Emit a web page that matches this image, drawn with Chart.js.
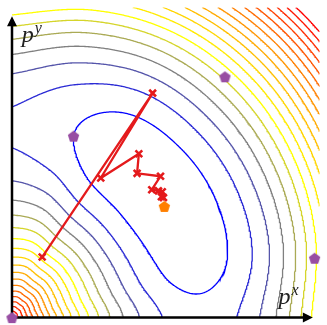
<!DOCTYPE html>
<html>
<head>
<meta charset="utf-8">
<script src="https://cdn.jsdelivr.net/npm/chart.js@4.4.0/dist/chart.umd.min.js"></script>
<style>
  html, body { margin: 0; padding: 0; background: #fff; }
</style>
</head>
<body>
<canvas id="chart" width="327" height="325"></canvas>
<script>
// plot units: 1 unit = 300px, origin at the corner of the arrows
const xMax = 1.05;
const yMax = 1.06;
const xAxisEnd = 1.027;
const yAxisEnd = 1.03;

// contour levels (blue -> yellow -> red)
const levels = [1, 2, 3, 4, 5, 6, 7, 8, 9, 10, 11, 12, 13, 14, 15, 16, 17, 18, 19];
const levelColors = [
  '#0000ff', '#2b2bd5', '#5555aa', '#808080', '#aaaa55', '#d5d52b', '#ffff00',
  '#ffea00', '#ffd500', '#ffbf00', '#ffaa00', '#ff9500', '#ff8000', '#ff6a00',
  '#ff5500', '#ff4000', '#ff2b00', '#ff1500', '#ff0000'
];

// shape of the valley, read along rays from the origin
const rayAngles = [0, 15, 30, 45, 60, 75, 90];
const basinRadius = [0.64, 0.648, 0.652, 0.655, 0.662, 0.668, 0.65];
const basinFloor = [1.38, 0.55, 0.25, 0.2, 0.38, 1.2, 1.83];
const innerCurve = [15.8, 16, 16.5, 17, 16.5, 15.8, 14.8];
const outerWidth = [0.161, 0.167, 0.175, 0.18, 0.178, 0.174, 0.169];
const originPeak = 19.5;

// optimiser steps
const pathX = [0.103, 0.48, 0.303, 0.433, 0.427, 0.507, 0.477, 0.5, 0.513, 0.517, 0.51];
const pathY = [0.207, 0.767, 0.477, 0.56, 0.493, 0.483, 0.437, 0.433, 0.43, 0.41, 0.413];

// sampled points and the optimum
const sampleX = [0, 0.21, 0.727, 1.033];
const sampleY = [0, 0.62, 0.823, 0.203];
const optimumX = [0.52];
const optimumY = [0.38];

function knot(arr, deg) {
  const t = Math.min(Math.max(deg, 0), 90) / 15;
  const i = Math.min(Math.floor(t), rayAngles.length - 2);
  const f = t - i;
  const p0 = arr[Math.max(i - 1, 0)], p1 = arr[i], p2 = arr[i + 1], p3 = arr[Math.min(i + 2, arr.length - 1)];
  return 0.5 * ((2 * p1) + (-p0 + p2) * f + (2 * p0 - 5 * p1 + 4 * p2 - p3) * f * f + (-p0 + 3 * p1 - 3 * p2 + p3) * f * f * f);
}

function surface(x, y) {
  const r = Math.hypot(x, y);
  const deg = Math.atan2(y, x) * 180 / Math.PI;
  const r0 = knot(basinRadius, deg);
  const m = knot(basinFloor, deg);
  if (r < r0) {
    const q = (r0 - r) / r0;
    const a = knot(innerCurve, deg);
    return m + a * q * q + (originPeak - m - a) * Math.pow(q, 6);
  }
  const w = knot(outerWidth, deg);
  return m + ((r - r0) / w) ** 2;
}

const GRID = 240;
function buildGrid() {
  const xs = [], ys = [], F = [];
  for (let i = 0; i <= GRID; i++) xs.push(xMax * i / GRID);
  for (let j = 0; j <= GRID; j++) ys.push(yMax * j / GRID);
  for (let j = 0; j <= GRID; j++) {
    const row = [];
    for (let i = 0; i <= GRID; i++) row.push(surface(xs[i], ys[j]));
    F.push(row);
  }
  return { xs, ys, F };
}

// marching squares, then chain the pieces into polylines
function traceLevel(g, level) {
  const { xs, ys, F } = g;
  const pts = new Map();
  const adj = new Map();
  const cross = (key, x0, y0, f0, x1, y1, f1) => {
    if (!pts.has(key)) {
      const t = (level - f0) / (f1 - f0);
      pts.set(key, { x: x0 + t * (x1 - x0), y: y0 + t * (y1 - y0) });
    }
    return key;
  };
  const link = (a, b) => {
    if (!adj.has(a)) adj.set(a, []);
    if (!adj.has(b)) adj.set(b, []);
    adj.get(a).push(b);
    adj.get(b).push(a);
  };
  for (let j = 0; j < GRID; j++) {
    for (let i = 0; i < GRID; i++) {
      const a = F[j][i], b = F[j][i + 1], c = F[j + 1][i + 1], d = F[j + 1][i];
      const x0 = xs[i], x1 = xs[i + 1], y0 = ys[j], y1 = ys[j + 1];
      const e = [];
      if ((a >= level) !== (b >= level)) e.push(cross('h' + j + ',' + i, x0, y0, a, x1, y0, b));
      if ((b >= level) !== (c >= level)) e.push(cross('v' + j + ',' + (i + 1), x1, y0, b, x1, y1, c));
      if ((d >= level) !== (c >= level)) e.push(cross('h' + (j + 1) + ',' + i, x0, y1, d, x1, y1, c));
      if ((a >= level) !== (d >= level)) e.push(cross('v' + j + ',' + i, x0, y0, a, x0, y1, d));
      if (e.length === 2) link(e[0], e[1]);
      else if (e.length === 4) {
        const mid = (a + b + c + d) / 4 >= level;
        if (mid === (a >= level)) { link(e[0], e[1]); link(e[2], e[3]); }
        else { link(e[0], e[3]); link(e[1], e[2]); }
      }
    }
  }
  const used = new Set();
  const walk = (start) => {
    const keys = [start];
    used.add(start);
    let cur = start;
    for (;;) {
      const next = adj.get(cur).find(k => !used.has(k));
      if (next === undefined) break;
      used.add(next);
      keys.push(next);
      cur = next;
    }
    if (keys.length > 2 && adj.get(cur).includes(start)) keys.push(start);
    return keys.map(k => pts.get(k));
  };
  const lines = [];
  for (const [k, n] of adj) if (n.length === 1 && !used.has(k)) lines.push(walk(k));
  for (const k of adj.keys()) if (!used.has(k)) lines.push(walk(k));
  return lines;
}

function pentagon(color, size) {
  const c = document.createElement('canvas');
  c.width = size;
  c.height = size;
  const g = c.getContext('2d');
  const r = size / 2 - 0.5;
  g.beginPath();
  for (let k = 0; k < 5; k++) {
    const a = -Math.PI / 2 + k * 2 * Math.PI / 5;
    const px = size / 2 + r * Math.cos(a), py = size / 2 + 0.6 + r * Math.sin(a);
    if (k === 0) g.moveTo(px, py); else g.lineTo(px, py);
  }
  g.closePath();
  g.fillStyle = color;
  g.fill();
  return c;
}

const toPoints = (xs, ys) => xs.map((x, i) => ({ x, y: ys[i] }));

const grid = buildGrid();
const datasets = [
  {
    label: 'optimum', data: toPoints(optimumX, optimumY), showLine: false,
    pointStyle: pentagon('#ff7f00', 13), pointRadius: 6, clip: false, order: 0
  },
  {
    label: 'samples', data: toPoints(sampleX, sampleY), showLine: false,
    pointStyle: pentagon('#984ea3', 13), pointRadius: 6, clip: false, order: 0
  },
  {
    label: 'path', data: toPoints(pathX, pathY), showLine: true,
    borderColor: '#e41a1c', borderWidth: 2.3, pointStyle: 'crossRot',
    pointRadius: 4.8, pointBorderWidth: 2.6, pointBorderColor: '#e41a1c',
    pointBackgroundColor: '#e41a1c', order: 1
  }
];
const PATH_INDEX = 2;
levels.forEach((lv, li) => {
  traceLevel(grid, lv).forEach(line => {
    datasets.push({
      label: 'level ' + lv, data: line, showLine: true, pointRadius: 0,
      borderColor: levelColors[li], borderWidth: 1.3, order: 2
    });
  });
});

const arrows = {
  id: 'arrows',
  beforeDatasetDraw(chart, args) {
    if (args.index !== PATH_INDEX) return;
    const { ctx } = chart;
    const sx = chart.scales.x, sy = chart.scales.y;
    const ox = sx.getPixelForValue(0), oy = sy.getPixelForValue(0);
    const ex = sx.getPixelForValue(xAxisEnd), ey = sy.getPixelForValue(yAxisEnd);
    ctx.save();
    ctx.strokeStyle = '#000';
    ctx.fillStyle = '#000';
    ctx.lineWidth = 2.5;
    ctx.beginPath();
    ctx.moveTo(ox, oy); ctx.lineTo(ex - 6, oy);
    ctx.moveTo(ox, oy); ctx.lineTo(ox, ey + 6);
    ctx.stroke();
    ctx.beginPath();
    ctx.moveTo(ex, oy); ctx.lineTo(ex - 10, oy - 5); ctx.lineTo(ex - 10, oy + 5); ctx.closePath();
    ctx.moveTo(ox, ey); ctx.lineTo(ox - 5, ey + 10); ctx.lineTo(ox + 5, ey + 10); ctx.closePath();
    ctx.fill();
    ctx.restore();
  },
  afterDraw(chart) {
    const { ctx } = chart;
    const sx = chart.scales.x, sy = chart.scales.y;
    ctx.save();
    ctx.fillStyle = '#222';
    ctx.textBaseline = 'alphabetic';
    const label = (x, y, sup) => {
      const px = sx.getPixelForValue(x), py = sy.getPixelForValue(y);
      ctx.font = 'italic 24px "Liberation Serif"';
      ctx.fillText('p', px, py);
      const w = ctx.measureText('p').width;
      ctx.font = 'italic 16px "Liberation Serif"';
      ctx.fillText(sup, px + w + 1, py - 9);
    };
    label(0.91, 0.047, 'x');
    label(0.033, 0.943, 'y');
    ctx.restore();
  }
};

new Chart(document.getElementById('chart'), {
  type: 'scatter',
  data: { datasets },
  options: {
    responsive: false,
    animation: false,
    devicePixelRatio: 1,
    layout: { padding: { left: 12, right: 0, top: 0, bottom: 7 } },
    scales: {
      x: { type: 'linear', min: 0, max: xMax, display: false },
      y: { type: 'linear', min: 0, max: yMax, display: false }
    },
    elements: { line: { tension: 0 } },
    plugins: { legend: { display: false }, tooltip: { enabled: false } }
  },
  plugins: [arrows]
});
</script>
</body>
</html>
